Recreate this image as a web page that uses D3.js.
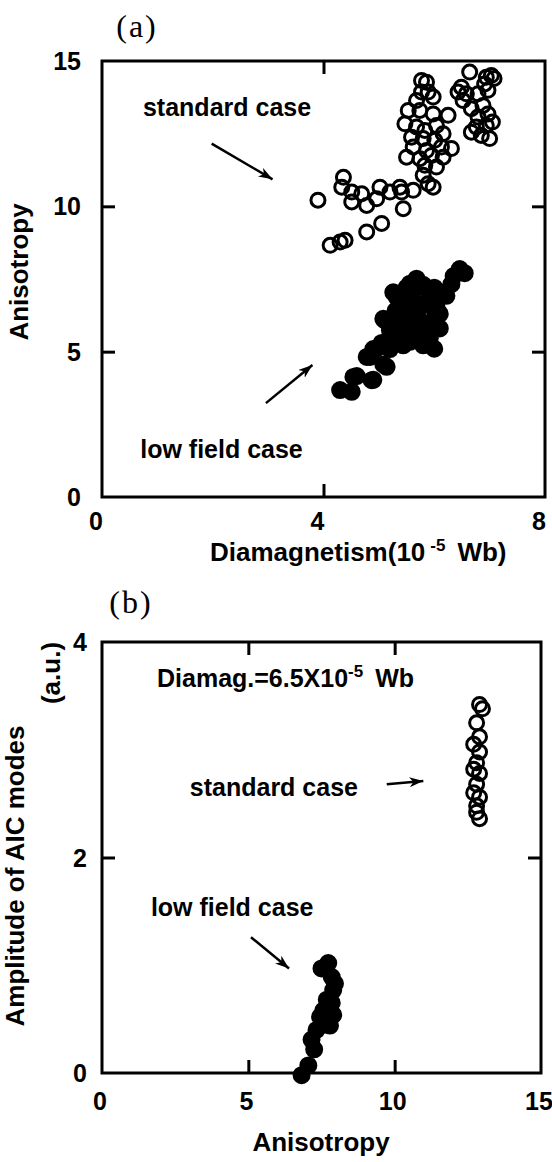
<!DOCTYPE html>
<html>
<head>
<meta charset="utf-8">
<script src="https://cdn.jsdelivr.net/npm/d3@7"></script>
<style>
  body { margin: 0; background: #fff; }
  text { font-family: "Liberation Sans", Arial, sans-serif; font-weight: bold; fill: #000; }
  .serif { font-family: "Liberation Serif", "Times New Roman", serif; font-weight: normal; }
</style>
</head>
<body>
<script>
// ---- data, panel (a): anisotropy vs diamagnetism ----
const stdDia = [5.77, 5.86, 5.77, 5.89, 5.68, 5.98, 5.53, 5.74, 5.98, 6.25, 5.47, 5.68, 5.83, 6.04, 6.16,
                5.59, 5.80, 6.01, 5.62, 5.86, 6.13, 6.31, 5.50, 5.74, 5.95, 6.16, 5.83, 6.04, 5.80, 5.89, 5.98,
                4.36, 4.33, 4.51, 4.69, 4.51, 4.78, 5.02, 4.96, 5.20, 5.38, 5.41, 5.62, 5.44, 3.90, 4.78, 5.05,
                4.30, 4.39, 4.12,
                6.64, 6.94, 7.03, 6.91, 6.49, 6.43, 6.58, 6.79, 6.97, 6.52, 6.67, 6.88, 6.97, 6.79, 6.76, 6.94,
                6.85, 7.00, 6.67, 7.08, 7.05];
const stdAniso = [14.33, 14.27, 13.93, 13.93, 13.64, 13.76, 13.30, 13.30, 13.18, 13.13, 12.84, 12.73, 12.61, 12.78, 12.50,
                  12.38, 12.33, 12.27, 12.04, 11.92, 12.04, 11.99, 11.69, 11.64, 11.75, 11.69, 11.41, 11.35, 11.07, 10.78, 10.66,
                  11.00, 10.66, 10.49, 10.43, 10.15, 10.03, 10.66, 10.26, 10.49, 10.66, 10.49, 10.55, 9.92, 10.21, 9.12, 9.41,
                  8.77, 8.83, 8.66,
                  14.62, 14.44, 14.50, 14.21, 14.10, 13.93, 13.87, 13.87, 13.99, 13.64, 13.36, 13.47, 13.18, 13.07, 12.73, 12.78,
                  12.44, 12.33, 12.55, 14.40, 12.90];

const lowDia = [4.30, 4.51, 4.54, 4.87, 4.84, 4.96, 5.14, 5.11, 5.32, 5.56, 5.68,
                5.68, 6.46, 6.31, 6.10, 5.80, 5.26, 5.08, 5.20, 5.50, 5.92, 6.04, 5.80, 5.44, 5.20,
                4.90, 4.78, 5.08, 4.60, 4.90, 5.56, 5.74, 5.56, 5.86, 5.38, 5.62, 6.22, 5.80, 5.92,
                5.40, 5.50, 5.60, 5.70, 5.90, 6.00, 5.50, 5.70, 5.90, 6.10, 5.30, 5.60, 5.80, 6.10,
                5.45, 6.00, 6.35, 6.55, 5.25, 5.05, 5.95, 5.35];
const lowAniso = [3.68, 3.62, 4.13, 4.02, 4.82, 5.11, 4.48, 6.08, 6.88, 7.34, 7.46,
                  7.51, 7.84, 7.32, 7.04, 6.65, 7.04, 6.13, 5.74, 6.13, 6.00, 6.53, 5.22, 5.22, 5.09,
                  5.09, 4.82, 4.56, 4.16, 4.03, 6.79, 5.74, 5.34, 7.18, 6.53, 6.39, 6.92, 5.60, 5.47,
                  6.90, 7.20, 6.60, 6.20, 6.60, 7.20, 5.80, 5.50, 5.30, 5.80, 6.40, 7.00, 7.30, 6.30,
                  5.50, 5.10, 7.60, 7.70, 5.50, 5.30, 6.90, 5.90];

// ---- data, panel (b): AIC amplitude vs anisotropy ----
const stdAnisoB = [12.9, 13.0, 12.8, 12.9, 12.7, 12.9, 12.8, 12.7, 12.9, 12.8, 12.7, 12.9, 12.8, 12.8, 12.9];
const stdAmpB   = [3.42, 3.38, 3.25, 3.12, 3.05, 2.98, 2.88, 2.82, 2.78, 2.68, 2.60, 2.56, 2.48, 2.42, 2.36];

const lowAnisoB = [6.82, 7.05, 7.16, 7.33, 7.45, 7.79, 7.90, 7.85, 7.90, 7.85, 7.73, 7.50, 7.96, 7.68, 7.56, 7.25, 7.62];
const lowAmpB   = [-0.02, 0.07, 0.31, 0.40, 0.52, 0.44, 0.54, 0.65, 0.77, 0.89, 1.02, 0.97, 0.83, 0.68, 0.58, 0.22, 0.45];

// tick labels
const xTicksA = [0, 4, 8];
const yTicksA = [0, 5, 10, 15];
const xTicksB = [0, 5, 10, 15];
const yTicksB = [0, 2, 4];

// Width and Height
const w = 552;
const h = 1162;

const svg = d3.select("body")
              .append("svg")
              .attr("width", w)
              .attr("height", h);

// arrow head
svg.append("defs").append("marker")
    .attr("id", "head")
    .attr("markerUnits", "userSpaceOnUse")
    .attr("markerWidth", 16).attr("markerHeight", 12)
    .attr("refX", 14).attr("refY", 5)
    .attr("orient", "auto")
    .append("path")
    .attr("d", "M0,0 L14,5 L0,10 L4,5 Z")
    .attr("fill", "#000");

// Scales
const xA = d3.scaleLinear().domain([0, 8]).range([102, 545]);
const yA = d3.scaleLinear().domain([0, 15]).range([497, 61]);
const xB = d3.scaleLinear().domain([0, 15]).range([102, 541]);
const yB = d3.scaleLinear().domain([0, 4]).range([1073, 642]);

function drawFrame(x, y, xt, yt, opts) {
    const g = svg.append("g");
    const [x0, x1] = x.range();
    const [y0, y1] = y.range();

    // inward ticks on all four sides
    const inner = xt.slice(1, -1);
    const innerY = yt.slice(1, -1);
    g.append("g").attr("transform", `translate(0,${y0})`)
        .call(d3.axisBottom(x).tickValues(inner).tickSizeInner(-13).tickSizeOuter(0).tickFormat(""));
    g.append("g").attr("transform", `translate(0,${y1})`)
        .call(d3.axisTop(x).tickValues(inner).tickSizeInner(-13).tickSizeOuter(0).tickFormat(""));
    g.append("g").attr("transform", `translate(${x0},0)`)
        .call(d3.axisLeft(y).tickValues(innerY).tickSizeInner(-13).tickSizeOuter(0).tickFormat(""));
    g.append("g").attr("transform", `translate(${x1},0)`)
        .call(d3.axisRight(y).tickValues(innerY).tickSizeInner(-13).tickSizeOuter(0).tickFormat(""));
    g.selectAll(".domain").remove();
    g.selectAll(".tick line").attr("stroke", "#000").attr("stroke-width", 3);

    g.append("rect")
        .attr("x", x0).attr("y", y1)
        .attr("width", x1 - x0).attr("height", y0 - y1)
        .attr("fill", "none").attr("stroke", "#000").attr("stroke-width", 3);

    // tick labels
    g.selectAll(".xl").data(xt).enter().append("text")
        .attr("x", d => x(d) + opts.xdx)
        .attr("y", opts.xLabelY)
        .attr("text-anchor", "middle")
        .style("font-size", "25px")
        .text(d => d);
    g.selectAll(".yl").data(yt).enter().append("text")
        .attr("x", opts.yLabelX)
        .attr("y", d => y(d))
        .attr("dy", "0.36em")
        .attr("text-anchor", "end")
        .style("font-size", "25px")
        .text(d => d);
}

function drawPoints(x, y, xs, ys, filled) {
    svg.append("g").selectAll("circle")
        .data(xs.map((d, i) => [d, ys[i]]))
        .enter()
        .append("circle")
        .attr("cx", d => x(d[0]))
        .attr("cy", d => y(d[1]))
        .attr("r", filled ? 7.5 : 7)
        .attr("fill", filled ? "#000" : "none")
        .attr("stroke", "#000")
        .attr("stroke-width", 3);
}

function label(x, y, px, py, str) {
    svg.append("text")
        .attr("x", x(px)).attr("y", y(py))
        .style("font-size", "25px")
        .text(str);
}

function arrow(x, y, a, b) {
    svg.append("line")
        .attr("x1", x(a[0])).attr("y1", y(a[1]))
        .attr("x2", x(b[0])).attr("y2", y(b[1]))
        .attr("stroke", "#000").attr("stroke-width", 2.5)
        .attr("marker-end", "url(#head)");
}

// ---------- panel (a) ----------
svg.append("text").attr("class", "serif")
    .attr("x", 137).attr("y", 37)
    .attr("text-anchor", "middle")
    .style("font-size", "32px").style("letter-spacing", "2px")
    .text("(a)");

drawFrame(xA, yA, xTicksA, yTicksA, {xLabelY: 530, yLabelX: 81, xdx: -6});
drawPoints(xA, yA, stdDia, stdAniso, false);
drawPoints(xA, yA, lowDia, lowAniso, true);

label(xA, yA, 0.74, 13.1, "standard case");
arrow(xA, yA, [1.98, 12.16], [3.08, 10.93]);
label(xA, yA, 0.69, 1.34, "low field case");
arrow(xA, yA, [2.96, 3.23], [3.8, 4.54]);

// axis titles
const titleA = svg.append("text").attr("x", 210).attr("y", 561).style("font-size", "26px");
titleA.append("tspan").text("Diamagnetism(10");
titleA.append("tspan").attr("dx", 5).attr("dy", -10).style("font-size", "17px").text("-5");
titleA.append("tspan").attr("dx", 12).attr("dy", 10).text("Wb)");

svg.append("text")
    .attr("transform", "translate(28,272) rotate(-90)")
    .attr("text-anchor", "middle")
    .style("font-size", "26px")
    .text("Anisotropy");

// ---------- panel (b) ----------
svg.append("text").attr("class", "serif")
    .attr("x", 131).attr("y", 613)
    .attr("text-anchor", "middle")
    .style("font-size", "32px").style("letter-spacing", "2px")
    .text("(b)");

drawFrame(xB, yB, xTicksB, yTicksB, {xLabelY: 1110, yLabelX: 87, xdx: -2});
drawPoints(xB, yB, stdAnisoB, stdAmpB, false);
drawPoints(xB, yB, lowAnisoB, lowAmpB, true);

const dmg = svg.append("text").attr("x", xB(1.88)).attr("y", yB(3.58)).style("font-size", "25px");
dmg.append("tspan").text("Diamag.=6.5X10");
dmg.append("tspan").attr("dy", -10).style("font-size", "17px").text("-5");
dmg.append("tspan").attr("dx", 12).attr("dy", 10).text("Wb");

label(xB, yB, 3.0, 2.57, "standard case");
arrow(xB, yB, [9.73, 2.68], [10.98, 2.71]);
label(xB, yB, 1.67, 1.46, "low field case");
arrow(xB, yB, [5.09, 1.26], [6.39, 0.97]);

svg.append("text")
    .attr("x", 321).attr("y", 1151)
    .attr("text-anchor", "middle")
    .style("font-size", "26px")
    .text("Anisotropy");

svg.append("text")
    .attr("transform", "translate(24,876) rotate(-90)")
    .attr("text-anchor", "middle")
    .style("font-size", "26px")
    .text("Amplitude of AIC modes");
svg.append("text")
    .attr("transform", "translate(60,673) rotate(-90)")
    .attr("text-anchor", "middle")
    .style("font-size", "26px")
    .text("(a.u.)");
</script>
</body>
</html>
